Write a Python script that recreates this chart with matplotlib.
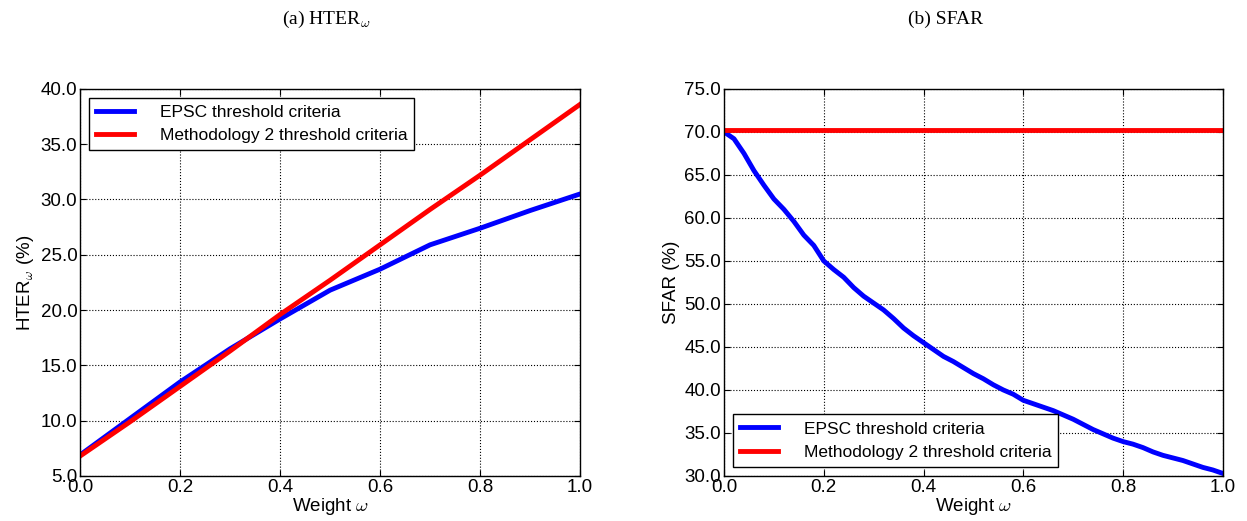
import matplotlib
matplotlib.use("Agg")
import matplotlib.pyplot as plt

plt.rcParams['font.family'] = ['Liberation Sans', 'DejaVu Sans']
plt.rcParams['mathtext.fontset'] = 'cm'

# (a) HTER_w
weights_a = [0.0, 0.1, 0.2, 0.3, 0.4, 0.5, 0.6, 0.7, 0.8, 0.9, 1.0]
hter_epsc = [6.9, 10.2, 13.5, 16.5, 19.2, 21.8, 23.7, 25.9, 27.4, 29.0, 30.5]
hter_meth2 = [6.8, 9.9, 13.1, 16.3, 19.6, 22.7, 25.9, 29.1, 32.2, 35.4, 38.6]

# (b) SFAR
weights_b = [0.0, 0.02, 0.04, 0.06, 0.08, 0.10, 0.12, 0.14, 0.16, 0.18,
             0.20, 0.22, 0.24, 0.26, 0.28, 0.30, 0.32, 0.34, 0.36, 0.38,
             0.40, 0.42, 0.44, 0.46, 0.48, 0.50, 0.52, 0.54, 0.56, 0.58,
             0.60, 0.62, 0.64, 0.66, 0.68, 0.70, 0.72, 0.74, 0.76, 0.78,
             0.80, 0.82, 0.84, 0.86, 0.88, 0.90, 0.92, 0.94, 0.96, 0.98, 1.0]
sfar_epsc = [70.0, 69.2, 67.5, 65.5, 63.8, 62.2, 61.0, 59.6, 58.0, 56.8,
             55.0, 54.0, 53.1, 51.9, 50.9, 50.1, 49.3, 48.3, 47.2, 46.3,
             45.5, 44.7, 43.9, 43.3, 42.6, 41.9, 41.3, 40.6, 40.0, 39.5,
             38.8, 38.4, 38.0, 37.6, 37.1, 36.6, 36.0, 35.4, 34.9, 34.4,
             34.0, 33.7, 33.3, 32.8, 32.4, 32.1, 31.8, 31.4, 31.0, 30.7, 30.3]
sfar_meth2 = [70.2] * len(weights_b)

labels = ['EPSC threshold criteria', 'Methodology 2 threshold criteria']

fig = plt.figure(figsize=(12.47, 5.21), dpi=100)
ax1 = fig.add_axes([0.0642, 0.0864, 0.401, 0.743])
ax2 = fig.add_axes([0.5806, 0.0864, 0.400, 0.743])


def style(ax, ylim, yticks):
    ax.set_xlim(0, 1)
    ax.set_ylim(*ylim)
    ax.set_xticks([0.0, 0.2, 0.4, 0.6, 0.8, 1.0])
    ax.set_xticklabels(['%.1f' % t for t in [0.0, 0.2, 0.4, 0.6, 0.8, 1.0]])
    ax.set_yticks(yticks)
    ax.set_yticklabels(['%.1f' % t for t in yticks])
    ax.tick_params(direction='in', top=True, right=True, labelsize=13.5, length=4, pad=2)
    ax.grid(True, linestyle=':', color='black', linewidth=0.8)
    ax.set_xlabel(r'Weight $\omega$', fontsize=13.5, labelpad=0)
    for s in ax.spines.values():
        s.set_linewidth(1.0)


ax1.plot(weights_a, hter_epsc, color='blue', lw=3.5, label=labels[0])
ax1.plot(weights_a, hter_meth2, color='red', lw=3.5, label=labels[1])
style(ax1, (5, 40), [5, 10, 15, 20, 25, 30, 35, 40])
ax1.set_ylabel(r'HTER$_\omega$ (%)', fontsize=13.5, labelpad=3)
leg = ax1.legend(loc='upper left', fontsize=12.5, fancybox=False, framealpha=1,
                 edgecolor='black', borderaxespad=0.5, handlelength=2.2, handletextpad=1.5)
leg.get_frame().set_linewidth(1.0)

ax2.plot(weights_b, sfar_epsc, color='blue', lw=3.5, label=labels[0])
ax2.plot(weights_b, sfar_meth2, color='red', lw=3.5, label=labels[1])
style(ax2, (30, 75), [30, 35, 40, 45, 50, 55, 60, 65, 70, 75])
ax2.set_ylabel('SFAR (%)', fontsize=13.5, labelpad=3)
leg = ax2.legend(loc='lower left', fontsize=12.5, fancybox=False, framealpha=1,
                 edgecolor='black', borderaxespad=0.5, handlelength=2.2, handletextpad=1.5)
leg.get_frame().set_linewidth(1.0)

fig.text(0.262, 0.962, r'(a) HTER$_\omega$', ha='center', va='center',
         fontsize=14, family='Liberation Serif')
fig.text(0.758, 0.962, '(b) SFAR', ha='center', va='center',
         fontsize=14, family='Liberation Serif')

fig.savefig('out.png', dpi=100)
